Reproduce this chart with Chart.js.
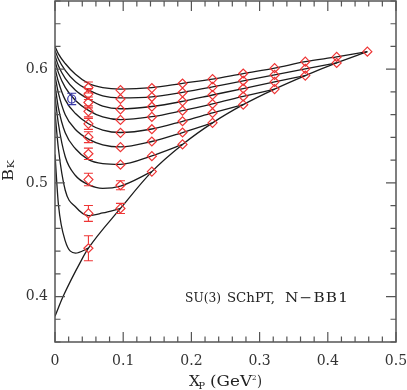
<!DOCTYPE html>
<html><head><meta charset="utf-8">
<style>html,body{margin:0;padding:0;background:#fff;}canvas{display:block;}</style>
<script src="https://cdn.jsdelivr.net/npm/chart.js@4/dist/chart.umd.min.js"></script>
</head><body>
<canvas id="c" width="407" height="390"></canvas>
<script>
// X_P positions of the measured points (GeV^2)
const xP = [0.049, 0.096, 0.142, 0.187, 0.231, 0.276, 0.322, 0.367, 0.413, 0.458];

// B_K data, one array per curve (fixed heavier valence mass)
const bk1  = [0.4425];
const bk2  = [0.4731, 0.4775];
const bk3  = [0.5029, 0.4979, 0.5099];
const bk4  = [0.5256, 0.5160, 0.5235, 0.5338];
const bk5  = [0.5402, 0.5314, 0.5364, 0.5443, 0.5528];
const bk6  = [0.5519, 0.5440, 0.5472, 0.5542, 0.5615, 0.5688];
const bk7  = [0.5629, 0.5554, 0.5580, 0.5635, 0.5694, 0.5760, 0.5825];
const bk8  = [0.5708, 0.5647, 0.5670, 0.5717, 0.5773, 0.5830, 0.5889, 0.5944];
const bk9  = [0.5781, 0.5738, 0.5755, 0.5795, 0.5845, 0.5898, 0.5950, 0.6003, 0.6055];
const bk10 = [0.5839, 0.5816, 0.5834, 0.5874, 0.5913, 0.5962, 0.6009, 0.6066, 0.6108, 0.6154];

// error bars
const err1  = [0.011];
const err2  = [0.007, 0.0045];
const err3  = [0.0055, 0.004, 0.002];
const err4  = [0.005, 0.003, 0.0015, 0.0015];
const err5  = [0.0048, 0.003, 0.0015, 0.0012, 0.0012];
const err6  = [0.0048, 0.003, 0.0015, 0.0012, 0.0012, 0.001];
const err7  = [0.0048, 0.003, 0.0012, 0.001, 0.001, 0.001, 0.001];
const err8  = [0.0048, 0.003, 0.0012, 0.001, 0.001, 0.001, 0.001, 0.001];
const err9  = [0.0048, 0.003, 0.0012, 0.001, 0.001, 0.001, 0.001, 0.001, 0.001];
const err10 = [0.0048, 0.003, 0.0012, 0.001, 0.001, 0.001, 0.001, 0.001, 0.001, 0.001];

// blue point
const blueX = [0.0245];
const blueY = [0.5738];
const blueErr = [0.005];

// fit curves: knots
const fitX = [0, 0.005, 0.015, 0.03, 0.049, 0.07, 0.096, 0.142, 0.187, 0.231, 0.276, 0.322, 0.367, 0.413, 0.458];
const fit1  = [0.525, 0.481, 0.449, 0.4382, 0.4425];
const fit2  = [0.562, 0.530, 0.4935, 0.479, 0.4712, 0.4735, 0.4775];
const fit3  = [0.576, 0.552, 0.523, 0.5065, 0.4985, 0.4952, 0.4972, 0.5099];
const fit4  = [0.586, 0.566, 0.544, 0.530, 0.5205, 0.517, 0.5163, 0.5238, 0.5338];
const fit5  = [0.594, 0.579, 0.560, 0.547, 0.5385, 0.5335, 0.5316, 0.5364, 0.5443, 0.5528];
const fit6  = [0.601, 0.589, 0.573, 0.561, 0.552, 0.5465, 0.5443, 0.5474, 0.5542, 0.5615, 0.5688];
const fit7  = [0.607, 0.597, 0.584, 0.5725, 0.5638, 0.558, 0.5556, 0.5582, 0.5635, 0.5694, 0.576, 0.5825];
const fit8  = [0.612, 0.603, 0.592, 0.5815, 0.5738, 0.5675, 0.5652, 0.5672, 0.5717, 0.5773, 0.583, 0.5889, 0.5944];
const fit9  = [0.6165, 0.609, 0.599, 0.589, 0.5818, 0.5765, 0.5748, 0.5757, 0.5797, 0.5845, 0.5898, 0.595, 0.6003, 0.6055];
const fit10 = [0.620, 0.6135, 0.605, 0.5955, 0.5875, 0.5838, 0.5825, 0.5838, 0.5876, 0.5913, 0.5962, 0.6009, 0.6066, 0.6108, 0.6154];

// degenerate line
const degX = [0, 0.012, 0.039, 0.049, 0.096, 0.142, 0.187, 0.231, 0.276, 0.322, 0.367, 0.413, 0.458];
const degY = [0.3827, 0.4002, 0.4323, 0.4425, 0.4775, 0.5099, 0.5338, 0.5528, 0.5688, 0.5825, 0.5944, 0.6055, 0.6154];

// tick labels
const xTickVals = [0, 0.1, 0.2, 0.3, 0.4, 0.5];
const xTickLabels = ['0', '0.1', '0.2', '0.3', '0.4', '0.5'];
const yTickVals = [0.4, 0.5, 0.6];
const yTickLabels = ['0.4', '0.5', '0.6'];

const RED = '#ee3535';
const LINE = '#1c1c1c';

const bkSets = [bk1, bk2, bk3, bk4, bk5, bk6, bk7, bk8, bk9, bk10];
const errSets = [err1, err2, err3, err4, err5, err6, err7, err8, err9, err10];
const fitSets = [fit1, fit2, fit3, fit4, fit5, fit6, fit7, fit8, fit9, fit10];

const datasets = [];
fitSets.forEach(f => {
  datasets.push({
    data: f.map((y, i) => ({x: fitX[i], y})),
    showLine: true, borderColor: LINE, borderWidth: 1.3, pointRadius: 0,
    cubicInterpolationMode: 'monotone', fill: false, order: 2
  });
});
datasets.push({
  data: degY.map((y, i) => ({x: degX[i], y})),
  showLine: true, borderColor: LINE, borderWidth: 1.3, pointRadius: 0,
  cubicInterpolationMode: 'monotone', fill: false, order: 2
});
bkSets.forEach((b, j) => {
  datasets.push({
    data: b.map((y, i) => ({x: xP[i], y})),
    errors: errSets[j],
    showLine: false, pointStyle: 'rectRot', pointRadius: 4.5,
    borderColor: RED, backgroundColor: 'rgba(0,0,0,0)', borderWidth: 1.2, order: 1
  });
});
datasets.push({
  data: blueY.map((y, i) => ({x: blueX[i], y})),
  errors: blueErr, through: true,
  showLine: false, pointStyle: 'circle', pointRadius: 4,
  borderColor: '#3a3aa8', backgroundColor: 'rgba(0,0,0,0)', borderWidth: 1.2, order: 1
});

function drawFit(ctx, text, x, y, width, font, spacing) {
  ctx.save();
  ctx.font = font;
  if (spacing) { try { ctx.letterSpacing = spacing; } catch (e) {} }
  const w = ctx.measureText(text).width;
  const sx = width ? width / w : 1;
  ctx.translate(x, y);
  ctx.scale(sx, 1);
  ctx.textAlign = 'left';
  ctx.textBaseline = 'alphabetic';
  ctx.fillText(text, 0, 0);
  ctx.restore();
}

const deco = {
  id: 'deco',
  afterDatasetsDraw(chart) {
    const ctx = chart.ctx;
    const ys = chart.scales.y;
    chart.data.datasets.forEach((ds, di) => {
      if (!ds.errors) return;
      const meta = chart.getDatasetMeta(di);
      ctx.save();
      ctx.strokeStyle = ds.borderColor;
      ctx.lineWidth = 1.1;
      meta.data.forEach((el, i) => {
        const e = ds.errors[i];
        const yv = ds.data[i].y;
        const yt = ys.getPixelForValue(yv + e);
        const yb = ys.getPixelForValue(yv - e);
        const r = ds.pointRadius;
        const x = el.x;
        ctx.beginPath();
        if (ds.through) {
          ctx.moveTo(x, yt); ctx.lineTo(x, yb);
        } else {
          if (el.y - yt > r) { ctx.moveTo(x, yt); ctx.lineTo(x, el.y - r); }
          if (yb - el.y > r) { ctx.moveTo(x, el.y + r); ctx.lineTo(x, yb); }
        }
        if (el.y - yt > r - 0.5) {
          ctx.moveTo(x - 4.5, yt); ctx.lineTo(x + 4.5, yt);
          ctx.moveTo(x - 4.5, yb); ctx.lineTo(x + 4.5, yb);
        }
        ctx.stroke();
      });
      ctx.restore();
    });
  },
  afterDraw(chart) {
    const ctx = chart.ctx;
    const a = chart.chartArea;
    const xs = chart.scales.x, ys = chart.scales.y;
    ctx.save();
    ctx.strokeStyle = '#555';
    ctx.lineWidth = 1.5;
    ctx.strokeRect(a.left, a.top, a.right - a.left, a.bottom - a.top);
    ctx.lineWidth = 1.2;
    ctx.beginPath();
    for (let i = 0; i <= 25; i++) {
      const x = xs.getPixelForValue(i * 0.02);
      const L = (i % 5 === 0) ? 10 : 5.5;
      ctx.moveTo(x, a.bottom); ctx.lineTo(x, a.bottom - L);
      ctx.moveTo(x, a.top); ctx.lineTo(x, a.top + L);
    }
    for (let i = 18; i <= 33; i++) {
      const y = ys.getPixelForValue(i * 0.02);
      const L = (i % 5 === 0) ? 10 : 5.5;
      ctx.moveTo(a.left, y); ctx.lineTo(a.left + L, y);
      ctx.moveTo(a.right, y); ctx.lineTo(a.right - L, y);
    }
    ctx.stroke();

    ctx.fillStyle = '#222';
    // x title: X_P (GeV^2)
    drawFit(ctx, 'X', 189, 386, 11, '14px "DejaVu Serif"');
    drawFit(ctx, 'P', 198.5, 389, 6.5, '9px "DejaVu Serif"');
    drawFit(ctx, '(GeV', 210, 386, 42, '14px "DejaVu Serif"');
    drawFit(ctx, '2', 252, 380, 4.5, '8px "DejaVu Serif"');
    drawFit(ctx, ')', 257, 386, 5, '14px "DejaVu Serif"');

    // y title: B_K rotated
    ctx.save();
    ctx.translate(13, 181);
    ctx.rotate(-Math.PI / 2);
    drawFit(ctx, 'B', 0, 0, 12, '14px "DejaVu Serif"');
    drawFit(ctx, 'K', 12.5, 1, 8.5, '9px "DejaVu Serif"');
    ctx.restore();

    // annotation
    drawFit(ctx, 'SU(3)', 185, 302, 36, '13px "DejaVu Serif"');
    drawFit(ctx, 'SChPT,', 227, 302, 48, '13px "DejaVu Serif"');
    drawFit(ctx, 'N\u2212BB1', 285, 302, 64, '13px "DejaVu Serif"', '1px');
    ctx.restore();
  }
};

function fixedTicks(vals) {
  return function (scale) { scale.ticks = vals.map(v => ({value: v})); };
}
function zeroPad(s) { s.paddingTop = 0; s.paddingBottom = 0; s.paddingLeft = 0; s.paddingRight = 0; }

new Chart(document.getElementById('c').getContext('2d'), {
  type: 'scatter',
  data: {datasets},
  options: {
    responsive: false, animation: false, devicePixelRatio: 1,
    layout: {autoPadding: false, padding: {top: 1, right: 11, left: 0, bottom: 0}},
    plugins: {legend: {display: false}, tooltip: {enabled: false}},
    scales: {
      x: {
        type: 'linear', min: 0, max: 0.5,
        grid: {display: false, drawTicks: false}, border: {display: false},
        afterBuildTicks: fixedTicks(xTickVals),
        ticks: {padding: 11, color: '#333', autoSkip: false, maxRotation: 0,
          font: {family: 'DejaVu Serif', size: 14},
          callback: (v, i) => xTickLabels[i]},
        afterFit(s) { s.height = 48; zeroPad(s); }
      },
      y: {
        type: 'linear', min: 0.36, max: 0.66,
        grid: {display: false, drawTicks: false}, border: {display: false},
        afterBuildTicks: fixedTicks(yTickVals),
        ticks: {padding: 0, color: '#333', autoSkip: false,
          font: {family: 'DejaVu Serif', size: 14, lineHeight: 0.2},
          callback: (v, i) => yTickLabels[i] + '\u2002'},
        afterFit(s) { s.width = 55; zeroPad(s); }
      }
    }
  },
  plugins: [deco]
});
</script>
</body></html>
